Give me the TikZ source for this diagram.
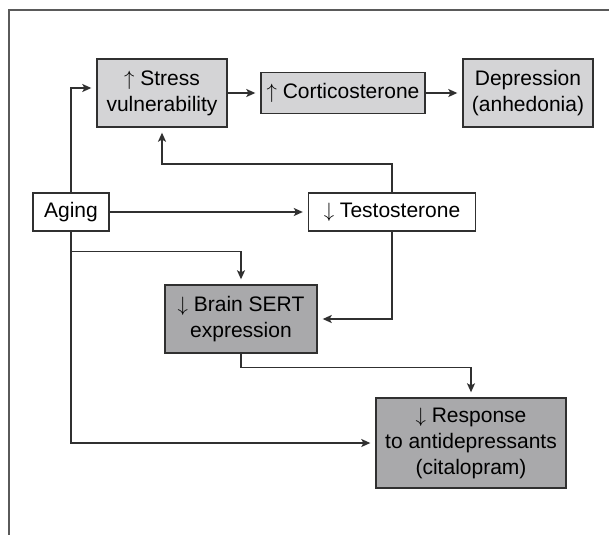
\documentclass[tikz,border=0pt]{standalone}
\usepackage{fontspec}
\setmainfont{Liberation Sans}
\usetikzlibrary{arrows.meta}

\definecolor{boxlight}{HTML}{D4D4D6}
\definecolor{boxdark}{HTML}{A9A9AB}
\definecolor{edgegray}{HTML}{303030}
\definecolor{framegray}{HTML}{5A5A5A}

\tikzset{
    factor/.style={draw=edgegray, line width=1.4pt, align=center, inner sep=0pt,
        font=\fontsize{21}{26}\selectfont},
    arr/.style={-{Stealth[length=9pt,width=8pt,inset=2pt]}, draw=edgegray, line width=1.3pt, shorten >=5pt}
}

\begin{document}
\begin{tikzpicture}[x=1pt, y=-1pt]
    \useasboundingbox (0,0) rectangle (609,535);
    % --- Frame (open at right and bottom) ---
    \draw[framegray, line width=1.8pt] (609,10) -- (9,10) -- (9,535);

    % --- Top row ---
    \node[factor, fill=boxlight, minimum width=130pt, minimum height=68pt] (stress) at (162,93) {$\uparrow$ Stress\\vulnerability};
    \node[factor, fill=boxlight, minimum width=164pt, minimum height=41pt] (cort) at (343,93) {$\uparrow$ Corticosterone};
    \node[factor, fill=boxlight, minimum width=130pt, minimum height=68pt] (depr) at (528,93) {Depression\\(anhedonia)};

    % --- Middle row ---
    \node[factor, fill=white, minimum width=76pt, minimum height=38pt] (aging) at (71,212) {Aging};
    \node[factor, fill=white, minimum width=167pt, minimum height=38pt] (testo) at (392,212) {$\downarrow$ Testosterone};

    % --- Lower boxes ---
    \node[factor, fill=boxdark, minimum width=152pt, minimum height=68pt] (sert) at (241,319) {$\downarrow$ Brain SERT\\expression};
    \node[factor, fill=boxdark, minimum width=190pt, minimum height=90pt] (resp) at (471,443) {$\downarrow$ Response\\to antidepressants\\(citalopram)};

    % --- Connectors ---
    \draw[arr] (stress.east) -- (cort.west);
    \draw[arr] (cort.east) -- (depr.west);
    \draw[arr] (aging.north) |- (stress.west |- 0,88);
    \draw[arr] (aging.east) -- (testo.west);
    \draw[arr] (testo.north) |- (stress.south |- 0,164) -- (stress.south);
    \draw[arr] (aging.south) ++(0,20) -| (sert.north);
    \draw[arr] (aging.south) |- (resp.west);
    \draw[arr] (testo.south) |- (sert.east);
    \draw[arr] (sert.south) -- ++(0,14) -| (resp.north);
\end{tikzpicture}
\end{document}
